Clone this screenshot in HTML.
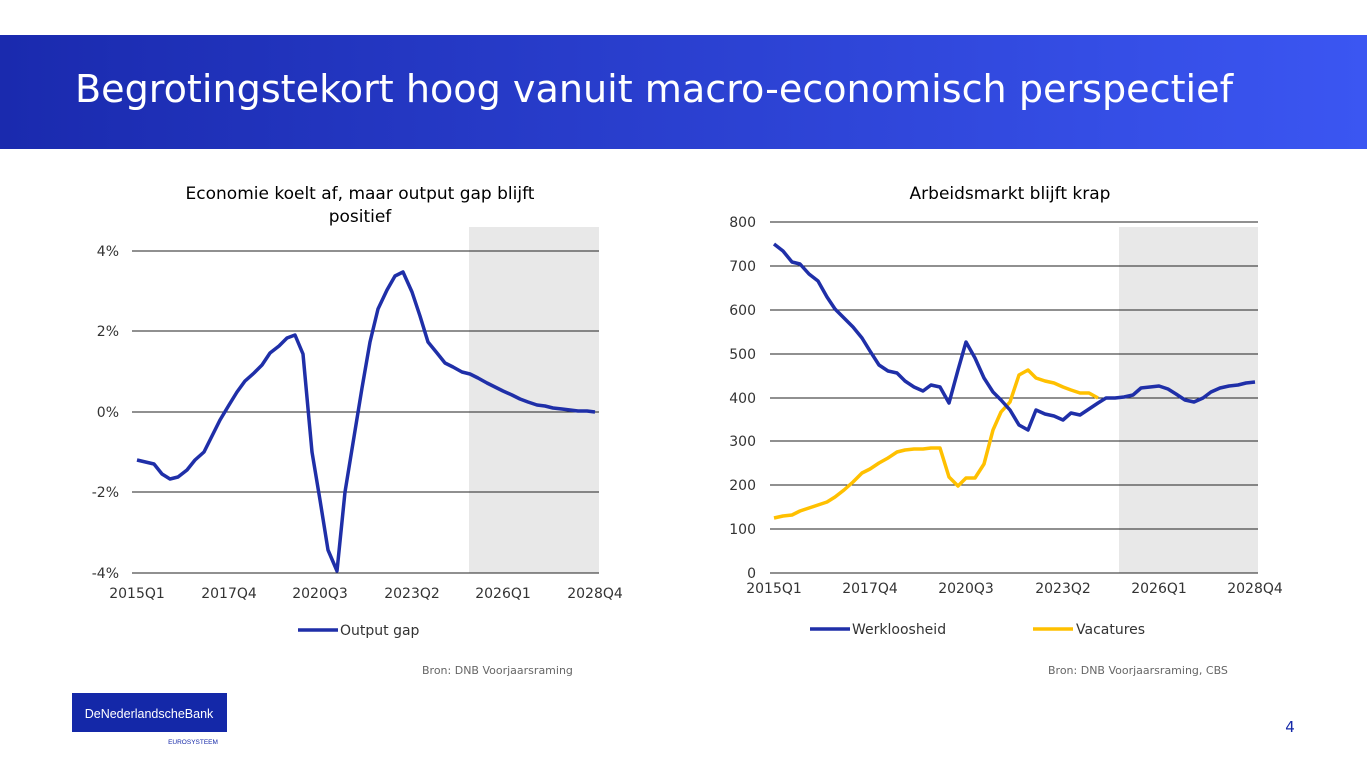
<!DOCTYPE html>
<html><head><meta charset="utf-8"><style>
body{margin:0;width:1367px;height:767px;background:#fff;overflow:hidden;font-family:"DejaVu Sans","Liberation Sans",sans-serif}
</style></head><body>
<svg width="1367" height="767" xmlns="http://www.w3.org/2000/svg" font-family="DejaVu Sans, Liberation Sans, sans-serif">
<defs><linearGradient id="g" x1="0" x2="1"><stop offset="0" stop-color="#1a2aae"/><stop offset="1" stop-color="#3b56f2"/></linearGradient></defs>
<rect x="0" y="35" width="1367" height="114" fill="url(#g)"/>
<text x="75" y="102" fill="#fff" font-size="38" textLength="1158" lengthAdjust="spacingAndGlyphs">Begrotingstekort hoog vanuit macro-economisch perspectief</text>

<!-- left chart -->
<rect x="469" y="227" width="130" height="346" fill="#e8e8e8"/>
<g stroke="#222" stroke-width="1">
<line x1="132" x2="599" y1="251" y2="251"/><line x1="132" x2="599" y1="331" y2="331"/><line x1="132" x2="599" y1="412" y2="412"/><line x1="132" x2="599" y1="492" y2="492"/><line x1="132" x2="599" y1="573" y2="573"/>
</g>
<g font-size="14" fill="#333" text-anchor="end">
<text x="119" y="256">4%</text><text x="119" y="336">2%</text><text x="119" y="417">0%</text><text x="119" y="497">-2%</text><text x="119" y="578">-4%</text></g>
<g font-size="14" fill="#333" text-anchor="middle">
<text x="137" y="598">2015Q1</text><text x="229" y="598">2017Q4</text><text x="320" y="598">2020Q3</text><text x="412" y="598">2023Q2</text><text x="503" y="598">2026Q1</text><text x="595" y="598">2028Q4</text></g>
<text x="360" y="199" font-size="17" text-anchor="middle" fill="#000">Economie koelt af, maar output gap blijft</text>
<text x="360" y="222" font-size="17" text-anchor="middle" fill="#000">positief</text>
<polyline fill="none" stroke="#1f2fa8" stroke-width="3.5" stroke-linejoin="round" points="137,460 154,464 162,474 170,479 178,477 187,470 195,460 204,452 212,436 220,420 229,405 237,392 245,381 254,373 262,365 270,353 279,346 287,338 295,335 303,354 312,452 320,500 328,550 337,571 345,492 353,443 362,388 370,342 378,309 387,290 395,276 403,272 412,292 420,316 428,342 437,353 445,363 453,367 462,372 470,374 478,378 487,383 495,387 503,391 512,395 520,399 528,402 537,405 545,406 553,408 562,409 570,410 578,411 587,411 595,412"/>
<line x1="298" x2="338" y1="630" y2="630" stroke="#1f2fa8" stroke-width="3.5"/>
<text x="340" y="635" font-size="14" fill="#333">Output gap</text>
<text x="422" y="674" font-size="11" fill="#666">Bron: DNB Voorjaarsraming</text>

<!-- right chart -->
<rect x="1119" y="227" width="139" height="346" fill="#e8e8e8"/>
<g stroke="#222" stroke-width="1">
<line x1="770" x2="1258" y1="222" y2="222"/><line x1="770" x2="1258" y1="266" y2="266"/><line x1="770" x2="1258" y1="310" y2="310"/><line x1="770" x2="1258" y1="354" y2="354"/><line x1="770" x2="1258" y1="398" y2="398"/><line x1="770" x2="1258" y1="441" y2="441"/><line x1="770" x2="1258" y1="485" y2="485"/><line x1="770" x2="1258" y1="529" y2="529"/><line x1="770" x2="1258" y1="573" y2="573"/>
</g>
<g font-size="14" fill="#333" text-anchor="end">
<text x="756" y="227">800</text><text x="756" y="271">700</text><text x="756" y="315">600</text><text x="756" y="359">500</text><text x="756" y="403">400</text><text x="756" y="446">300</text><text x="756" y="490">200</text><text x="756" y="534">100</text><text x="756" y="578">0</text></g>
<g font-size="14" fill="#333" text-anchor="middle">
<text x="774" y="593">2015Q1</text><text x="870" y="593">2017Q4</text><text x="966" y="593">2020Q3</text><text x="1063" y="593">2023Q2</text><text x="1159" y="593">2026Q1</text><text x="1255" y="593">2028Q4</text></g>
<text x="1010" y="199" font-size="17" text-anchor="middle" fill="#000">Arbeidsmarkt blijft krap</text>
<polyline fill="none" stroke="#ffc000" stroke-width="3.5" stroke-linejoin="round" points="774,518 783,516 792,515 800,511 809,508 818,505 827,502 835,497 844,490 853,482 862,473 870,469 879,463 888,458 897,452 905,450 914,449 923,449 931,448 940,448 949,477 958,486 966,478 975,478 984,464 993,430 1001,412 1010,402 1019,375 1028,370 1036,378 1045,381 1054,383 1063,387 1071,390 1080,393 1089,393 1098,398"/>
<polyline fill="none" stroke="#1f2fa8" stroke-width="3.5" stroke-linejoin="round" points="774,244 783,251 792,262 800,264 809,274 818,281 827,297 835,309 844,318 853,327 862,338 870,351 879,365 888,371 897,373 905,381 914,387 923,391 931,385 940,387 949,403 958,370 966,342 975,358 984,378 993,392 1001,400 1010,410 1019,425 1028,430 1036,410 1045,414 1054,416 1063,420 1071,413 1080,415 1089,409 1098,403 1106,398 1115,398 1124,397 1133,395 1141,388 1150,387 1159,386 1168,389 1176,394 1185,400 1194,402 1203,398 1211,392 1220,388 1229,386 1238,385 1246,383 1255,382"/>
<line x1="810" x2="850" y1="629" y2="629" stroke="#1f2fa8" stroke-width="3.5"/>
<text x="852" y="634" font-size="14" fill="#333">Werkloosheid</text>
<line x1="1033" x2="1073" y1="629" y2="629" stroke="#ffc000" stroke-width="3.5"/>
<text x="1076" y="634" font-size="14" fill="#333">Vacatures</text>
<text x="1048" y="674" font-size="11" fill="#666">Bron: DNB Voorjaarsraming, CBS</text>

<!-- logo -->
<rect x="72" y="693" width="155" height="39" fill="#1428a8"/>
<text x="149" y="718" font-size="12.5" fill="#fff" text-anchor="middle" font-family="Liberation Sans, sans-serif">DeNederlandscheBank</text>
<text x="193" y="744" font-size="6.5" fill="#1428a8" text-anchor="middle" font-family="Liberation Sans, sans-serif">EUROSYSTEEM</text>
<text x="1290" y="732" font-size="15" fill="#1428a8" text-anchor="middle">4</text>
</svg>
</body></html>
